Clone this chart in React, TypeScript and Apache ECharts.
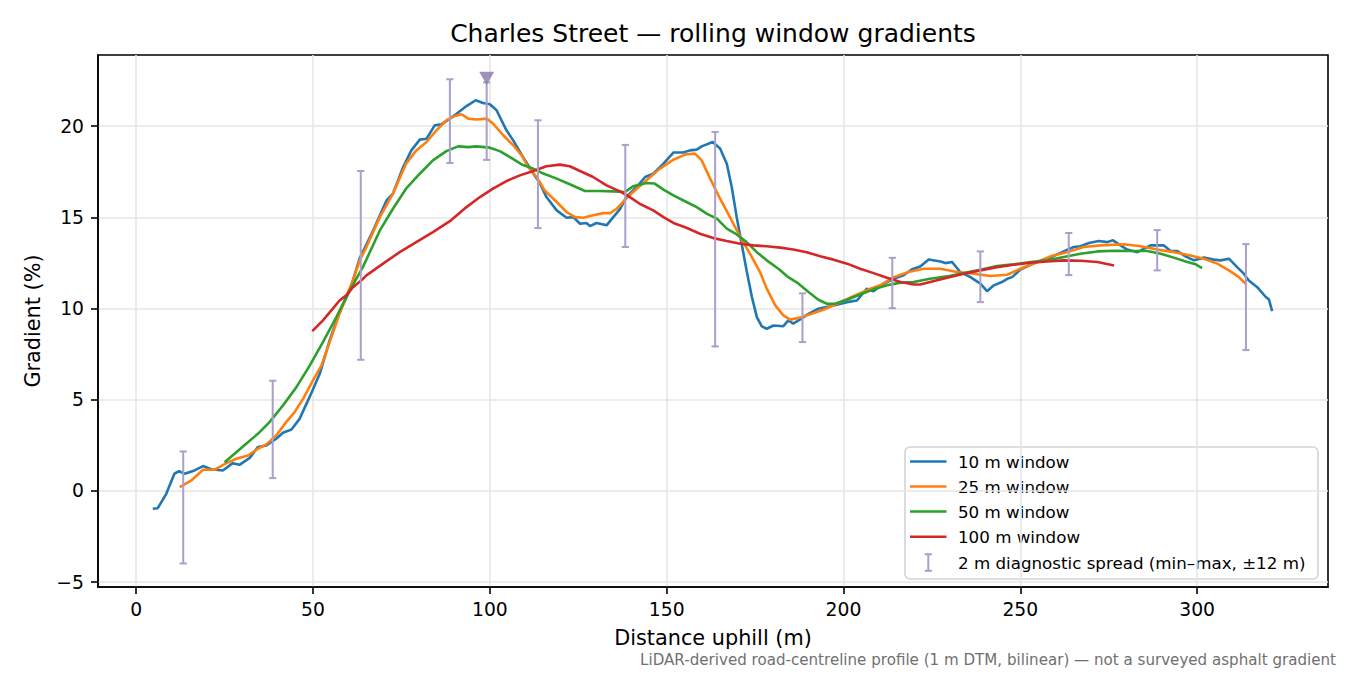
import React, { useEffect, useRef } from "react";
import * as echarts from "echarts";

const FONT = "DejaVu Sans";

const xTicks = [0, 50, 100, 150, 200, 250, 300];
const yTicks = [-5, 0, 5, 10, 15, 20];

const seriesNames = ["10 m window", "25 m window", "50 m window", "100 m window"];
const seriesColors = ["#1f77b4", "#ff7f0e", "#2ca02c", "#d62728"];
const diagName = "2 m diagnostic spread (min\u2013max, \u00b112 m)";

const win10: number[][] = [
  [4.7, -0.98], [6.1, -0.95], [8.5, -0.16], [10.8, 0.94], [12.1, 1.08], [13.7, 0.94], [16.5, 1.12], [18.9, 1.36],
  [21.2, 1.19], [24.5, 1.12], [27.3, 1.52], [29.2, 1.43], [32.1, 1.81], [34.4, 2.4], [36.8, 2.49], [39.6, 2.86],
  [41.5, 3.19], [43.9, 3.37], [46.2, 3.95], [49.1, 5.18], [51.9, 6.42], [54.7, 8.25], [57.5, 9.8], [60.4, 11.0],
  [63.2, 12.75], [67.0, 14.28], [70.8, 15.93], [72.6, 16.3], [75.5, 17.76], [77.8, 18.67], [80.2, 19.26], [82.1, 19.31],
  [84.4, 20.04], [86.3, 20.1], [88.7, 20.41], [90.6, 20.68], [93.4, 21.1], [96.0, 21.42], [98.1, 21.27], [100.0, 21.2],
  [101.9, 20.87], [104.7, 19.77], [106.6, 19.22], [109.4, 18.3], [112.3, 17.4], [114.2, 16.85], [116.0, 16.11],
  [118.9, 15.38], [121.7, 14.98], [123.6, 15.01], [125.5, 14.65], [127.3, 14.69], [128.3, 14.52], [130.2, 14.69],
  [133.0, 14.56], [134.9, 15.01], [136.8, 15.45], [138.7, 16.15], [141.5, 16.66], [143.9, 17.21], [146.2, 17.39],
  [149.1, 17.94], [151.9, 18.55], [154.7, 18.55], [156.6, 18.67], [158.5, 18.71], [159.9, 18.89], [163.0, 19.13],
  [165.1, 18.77], [167.0, 17.94], [168.4, 16.66], [169.8, 15.01], [171.2, 13.55], [172.6, 12.09], [174.1, 10.63],
  [175.5, 9.53], [176.9, 9.02], [178.3, 8.89], [180.2, 9.07], [183.0, 9.03], [184.4, 9.35], [185.8, 9.17], [187.3, 9.35],
  [190.1, 9.71], [192.9, 9.99], [197.2, 10.17], [201.0, 10.35], [203.8, 10.44], [206.6, 11.09], [208.5, 10.95],
  [211.3, 11.36], [214.2, 11.63], [217.0, 11.82], [219.4, 12.15], [221.7, 12.3], [224.1, 12.69], [227.4, 12.58],
  [228.8, 12.49], [230.7, 12.55], [233.0, 12.0], [235.9, 11.72], [238.7, 11.36], [240.6, 10.95], [242.5, 11.27],
  [244.8, 11.45], [246.3, 11.63], [247.7, 11.72], [250.0, 12.13], [252.4, 12.36], [254.8, 12.55], [258.5, 12.79],
  [261.8, 13.09], [265.1, 13.37], [267.0, 13.41], [269.4, 13.59], [272.2, 13.7], [274.6, 13.64], [276.2, 13.74],
  [277.9, 13.52], [280.2, 13.23], [283.1, 13.09], [286.8, 13.46], [290.6, 13.46], [292.5, 13.15], [294.4, 13.15],
  [296.7, 12.86], [299.1, 12.64], [301.9, 12.79], [304.7, 12.68], [306.6, 12.64], [309.0, 12.73], [311.3, 12.27],
  [313.2, 11.91], [314.6, 11.54], [317.0, 11.17], [319.4, 10.63], [320.3, 10.5], [321.2, 9.86],
];

const win25: number[][] = [
  [12.3, 0.2], [15.6, 0.57], [18.9, 1.16], [22.2, 1.16], [25.5, 1.52], [28.3, 1.76], [31.6, 1.94], [34.4, 2.31],
  [36.8, 2.55], [39.6, 3.04], [42.4, 3.77], [44.8, 4.32], [47.2, 5.05], [50.0, 6.06], [52.4, 6.88], [54.7, 8.16],
  [57.3, 9.6], [59.9, 10.9], [61.3, 11.54], [63.2, 12.64], [65.1, 13.37], [67.0, 14.2], [68.9, 15.01], [72.6, 16.3],
  [76.3, 17.94], [79.2, 18.67], [82.1, 19.13], [84.9, 19.77], [87.7, 20.32], [90.1, 20.56], [92.0, 20.65],
  [93.9, 20.41], [96.2, 20.36], [99.1, 20.41], [100.9, 20.14], [103.8, 19.5], [106.6, 18.95], [109.0, 18.4],
  [110.8, 17.76], [113.2, 17.21], [115.5, 16.48], [118.9, 15.84], [121.7, 15.29], [124.1, 15.01], [126.4, 14.98],
  [129.2, 15.11], [132.1, 15.23], [134.0, 15.23], [135.9, 15.47], [138.7, 16.05], [140.5, 16.39], [144.3, 17.03],
  [148.1, 17.67], [151.9, 18.16], [155.2, 18.44], [158.0, 18.49], [159.9, 18.12], [162.3, 17.12], [165.1, 16.02],
  [167.9, 15.01], [170.8, 13.92], [173.6, 13.0], [176.4, 12.0], [178.3, 11.09], [180.7, 10.17], [183.0, 9.62],
  [184.9, 9.39], [187.7, 9.5], [191.0, 9.71], [194.3, 9.93], [198.1, 10.26], [202.8, 10.68], [207.6, 11.09],
  [210.4, 11.27], [214.2, 11.72], [218.4, 12.0], [222.7, 12.18], [227.4, 12.18], [232.1, 12.0], [236.8, 11.91],
  [241.5, 11.78], [246.3, 11.85], [250.0, 12.18], [254.8, 12.55], [258.5, 12.86], [263.2, 13.09], [267.9, 13.37],
  [272.7, 13.46], [279.3, 13.52], [284.0, 13.41], [288.8, 13.23], [293.5, 13.09], [298.1, 12.91], [301.9, 12.73],
  [305.7, 12.46], [309.0, 12.09], [311.8, 11.72], [313.7, 11.36],
];

const win50: number[][] = [
  [25.0, 1.57], [28.3, 2.12], [31.6, 2.67], [34.4, 3.13], [37.7, 3.77], [41.5, 4.68], [45.3, 5.69], [49.1, 6.88],
  [52.8, 8.16], [56.6, 9.53], [60.4, 11.0], [64.1, 12.27], [68.9, 14.28], [72.6, 15.47], [76.3, 16.57], [80.2, 17.39],
  [83.9, 18.12], [87.7, 18.63], [91.0, 18.89], [93.9, 18.85], [96.2, 18.89], [100.0, 18.82], [102.8, 18.63],
  [105.7, 18.3], [109.0, 17.9], [112.3, 17.67], [115.1, 17.4], [118.9, 17.12], [122.6, 16.81], [126.9, 16.44],
  [131.1, 16.44], [134.9, 16.42], [138.2, 16.39], [140.5, 16.7], [144.3, 16.88], [146.6, 16.85], [149.1, 16.52],
  [151.9, 16.2], [155.6, 15.84], [158.5, 15.56], [161.3, 15.2], [164.2, 14.93], [167.0, 14.38], [169.8, 14.06],
  [172.6, 13.64], [175.5, 13.09], [178.3, 12.64], [181.6, 12.18], [184.4, 11.72], [187.3, 11.36], [190.1, 10.9],
  [192.9, 10.48], [195.3, 10.26], [197.6, 10.26], [201.0, 10.48], [204.7, 10.77], [208.5, 11.05], [212.3, 11.27],
  [216.1, 11.42], [219.8, 11.45], [224.5, 11.63], [229.3, 11.76], [234.0, 11.94], [238.7, 12.13], [243.4, 12.33],
  [248.1, 12.42], [252.9, 12.55], [257.6, 12.64], [262.3, 12.82], [267.0, 13.0], [271.8, 13.13], [276.5, 13.17],
  [281.2, 13.15], [285.9, 13.15], [289.7, 13.0], [293.4, 12.79], [297.2, 12.55], [299.6, 12.42], [301.4, 12.22],
];

const win100: number[][] = [
  [49.8, 8.76], [52.8, 9.35], [55.6, 9.99], [57.5, 10.44], [59.4, 10.72], [61.3, 11.17], [64.1, 11.62], [65.1, 11.82],
  [69.8, 12.46], [74.5, 13.09], [79.2, 13.64], [83.9, 14.19], [88.7, 14.79], [93.4, 15.56], [97.2, 16.11],
  [100.9, 16.57], [104.7, 16.99], [108.5, 17.3], [112.3, 17.54], [116.0, 17.8], [119.8, 17.89], [122.6, 17.8],
  [125.5, 17.54], [129.2, 17.21], [133.0, 16.75], [136.8, 16.42], [139.6, 16.11], [142.5, 15.73], [146.2, 15.38],
  [149.1, 15.01], [151.9, 14.69], [155.6, 14.43], [159.4, 14.1], [163.2, 13.86], [167.0, 13.7], [170.8, 13.55],
  [174.5, 13.46], [178.3, 13.41], [182.1, 13.34], [185.8, 13.24], [189.6, 13.09], [193.4, 12.86], [197.2, 12.68],
  [201.0, 12.46], [204.7, 12.18], [208.5, 11.94], [212.3, 11.69], [216.1, 11.45], [219.9, 11.32], [221.7, 11.32],
  [224.5, 11.45], [229.3, 11.69], [234.0, 11.91], [238.7, 12.09], [243.4, 12.27], [248.1, 12.4], [252.9, 12.51],
  [257.6, 12.58], [262.3, 12.64], [267.0, 12.62], [271.8, 12.55], [276.5, 12.36],
];

const diagX = [13.3, 38.6, 63.5, 88.7, 99.1, 113.6, 138.3, 163.7, 188.4, 213.8, 238.7, 263.7, 288.7, 313.8];
const diagLo = [-3.98, 0.7, 7.19, 17.98, 18.15, 14.41, 13.37, 7.92, 8.16, 10.02, 10.35, 11.83, 12.09, 7.72];
const diagHi = [2.16, 6.04, 17.54, 22.57, 22.4, 20.32, 18.97, 19.68, 10.83, 12.78, 13.13, 14.14, 14.3, 13.53];

const peakX = 99.1;
const peakY = 22.62;

const DIAG_COLOR = "#aa9fc8";
const PEAK_COLOR = "#8677a7";

export default function App() {
  const ref = useRef<HTMLDivElement>(null);

  useEffect(() => {
    document.body.style.margin = "0";
    if (!ref.current) return;
    const chart = echarts.init(ref.current, null, { renderer: "svg" });

    const gridL = 98, gridR = 22, gridT = 55, gridB = 88;
    const plotRight = 1350 - gridR;
    const plotBottom = 675 - gridB;
    const cx = (gridL + plotRight) / 2;
    const cy = (gridT + plotBottom) / 2;

    const lineData = [win10, win25, win50, win100];
    const lineSeries = lineData.map((d, i) => ({
      name: seriesNames[i],
      type: "line",
      data: d,
      showSymbol: false,
      symbol: "none",
      smooth: false,
      lineStyle: { color: seriesColors[i], width: 2.6 },
      itemStyle: { color: seriesColors[i] },
      z: 3,
    }));

    const diagData = diagX.map((x, i) => [x, diagLo[i], diagHi[i]]);

    const axisCommon = {
      axisLine: { show: true, onZero: false, lineStyle: { color: "#000", width: 1.6 } },
      axisTick: { show: true, inside: false, length: 7, lineStyle: { color: "#000", width: 1.6 } },
      splitLine: { show: true, lineStyle: { color: "#e6e6e6", width: 1.6 } },
    };

    // legend graphic
    const lgX = 905, lgY = 447, lgW = 413, lgH = 132;
    const rowY = [461.5, 486.5, 511.5, 536.7, 562.5];
    const legendChildren: any[] = [
      {
        type: "rect",
        shape: { x: lgX, y: lgY, width: lgW, height: lgH, r: 5 },
        style: { fill: "rgba(255,255,255,0.85)", stroke: "#d4d4d4", lineWidth: 1.6 },
      },
    ];
    seriesNames.forEach((n, i) => {
      legendChildren.push({
        type: "line",
        shape: { x1: 910, y1: rowY[i], x2: 946.5, y2: rowY[i] },
        style: { stroke: seriesColors[i], lineWidth: 2.6 },
      });
      legendChildren.push({
        type: "text",
        style: {
          text: n, x: 958, y: rowY[i], fontSize: 16.7, fontFamily: FONT, fill: "#000",
          textAlign: "left", textVerticalAlign: "middle", align: "left", verticalAlign: "middle",
        },
      });
    });
    const iy = rowY[4];
    legendChildren.push(
      { type: "line", shape: { x1: 928.3, y1: iy - 8.3, x2: 928.3, y2: iy + 8.3 }, style: { stroke: DIAG_COLOR, lineWidth: 2 } },
      { type: "line", shape: { x1: 924.7, y1: iy - 8.3, x2: 931.9, y2: iy - 8.3 }, style: { stroke: DIAG_COLOR, lineWidth: 2 } },
      { type: "line", shape: { x1: 924.7, y1: iy + 8.3, x2: 931.9, y2: iy + 8.3 }, style: { stroke: DIAG_COLOR, lineWidth: 2 } },
      {
        type: "text",
        style: {
          text: diagName, x: 958, y: iy, fontSize: 16.7, fontFamily: FONT, fill: "#000",
          textAlign: "left", textVerticalAlign: "middle", align: "left", verticalAlign: "middle",
        },
      }
    );

    const option: any = {
      animation: false,
      backgroundColor: "#fff",
      textStyle: { fontFamily: FONT },
      grid: {
        left: gridL, right: gridR, top: gridT, bottom: gridB,
        show: true, borderColor: "#000", borderWidth: 1.6, backgroundColor: "transparent",
        containLabel: false,
      },
      xAxis: {
        type: "value",
        min: -10.8,
        max: 337,
        ...axisCommon,
        axisTick: { ...axisCommon.axisTick, customValues: xTicks },
        axisLabel: { customValues: xTicks, fontSize: 18.75, color: "#000", margin: 13, fontFamily: FONT },
      },
      yAxis: {
        type: "value",
        min: -5.27,
        max: 23.9,
        ...axisCommon,
        axisTick: { ...axisCommon.axisTick, customValues: yTicks },
        axisLabel: {
          customValues: yTicks, fontSize: 18.75, color: "#000", margin: 14, fontFamily: FONT,
          formatter: (v: number) => (v < 0 ? "\u2212" + Math.abs(v) : String(v)),
        },
      },
      series: [
        ...lineSeries,
        {
          name: diagName,
          type: "custom",
          data: diagData,
          encode: { x: 0, y: [1, 2] },
          z: 4,
          renderItem: (params: any, api: any) => {
            const x = api.value(0);
            const lo = api.coord([x, api.value(1)]);
            const hi = api.coord([x, api.value(2)]);
            const cw = 3.6;
            const st = { stroke: DIAG_COLOR, lineWidth: 2 };
            return {
              type: "group",
              children: [
                { type: "line", shape: { x1: lo[0], y1: lo[1], x2: hi[0], y2: hi[1] }, style: st },
                { type: "line", shape: { x1: lo[0] - cw, y1: lo[1], x2: lo[0] + cw, y2: lo[1] }, style: st },
                { type: "line", shape: { x1: hi[0] - cw, y1: hi[1], x2: hi[0] + cw, y2: hi[1] }, style: st },
              ],
            };
          },
        },
        {
          name: "peak",
          type: "scatter",
          data: [[peakX, peakY]],
          symbol: "triangle",
          symbolRotate: 180,
          symbolSize: [15, 13],
          itemStyle: { color: PEAK_COLOR },
          z: 5,
        },
      ],
      graphic: [
        {
          type: "text",
          style: {
            text: "Charles Street \u2014 rolling window gradients", x: cx, y: 33, fontSize: 25, fontFamily: FONT, fill: "#000",
            textAlign: "center", textVerticalAlign: "middle", align: "center", verticalAlign: "middle",
          },
        },
        {
          type: "text",
          style: {
            text: "Distance uphill (m)", x: cx, y: 638, fontSize: 20.8, fontFamily: FONT, fill: "#000",
            textAlign: "center", textVerticalAlign: "middle", align: "center", verticalAlign: "middle",
          },
        },
        {
          type: "text",
          x: 33,
          y: cy,
          rotation: Math.PI / 2,
          style: {
            text: "Gradient (%)", x: 0, y: 0, fontSize: 20.8, fontFamily: FONT, fill: "#000",
            textAlign: "center", textVerticalAlign: "middle", align: "center", verticalAlign: "middle",
          },
        },
        {
          type: "text",
          style: {
            text: "LiDAR-derived road-centreline profile (1 m DTM, bilinear) \u2014 not a surveyed asphalt gradient",
            x: 1336, y: 660, fontSize: 15.1, fontFamily: FONT, fill: "#707070",
            textAlign: "right", textVerticalAlign: "middle", align: "right", verticalAlign: "middle",
          },
        },
        { type: "group", children: legendChildren, z: 100 },
      ],
    };

    chart.setOption(option);
    return () => chart.dispose();
  }, []);

  return <div ref={ref} style={{ width: 1350, height: 675 }} />;
}
